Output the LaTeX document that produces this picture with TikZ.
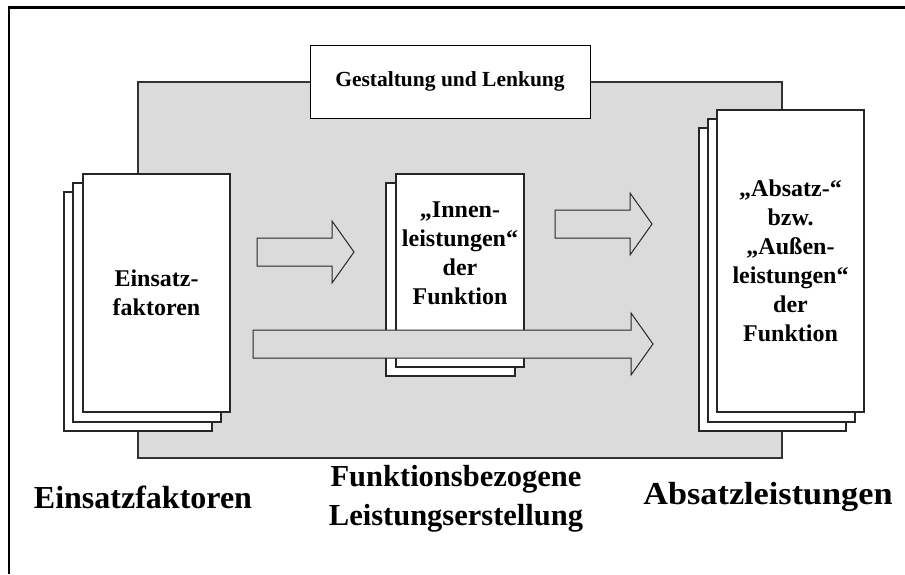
\documentclass[tikz,border=0pt]{standalone}
\usepackage{fontspec}
\setmainfont{Liberation Serif}
\begin{document}
\begin{tikzpicture}[x=1pt,y=-1pt,
  panel/.style={draw=black!80,fill=black!14,line width=1.1pt,inner sep=0pt,outer sep=0pt},
  sheet/.style={draw=black!85,fill=white,line width=1.1pt,inner sep=0pt,outer sep=0pt,
    align=center,font=\bfseries\fontsize{24}{29}\selectfont},
  headbox/.style={draw=black,fill=white,line width=0.9pt,inner sep=0pt,outer sep=0pt,
    font=\bfseries\fontsize{21.5}{26}\selectfont},
  biglabel/.style={align=center,inner sep=0pt,font=\bfseries\fontsize{32}{39}\selectfont},
  sheettext/.style={align=center,inner sep=0pt,font=\bfseries\fontsize{24}{29}\selectfont},
  flow/.style={draw=black!85,fill=black!14,line width=1pt,line join=miter}]

\newcommand\blockarrow[3]{%
  \draw[flow] (#1,{#3-14}) -- ({#2-22},{#3-14}) -- ({#2-22},{#3-31}) -- (#2,#3)
    -- ({#2-22},{#3+31}) -- ({#2-22},{#3+14}) -- (#1,{#3+14}) -- cycle;}

\useasboundingbox (0,0) rectangle (905,574);

% outer frame (top and left edges)
\draw[line width=2.2pt] (9,574) -- (9,7.5) -- (905,7.5);

% grey area of the function
\node[panel,minimum width=644pt,minimum height=376pt] (area) at (460,270) {};

% management box on top
\node[headbox,minimum width=280pt,minimum height=73pt] (lenkung) at (450,81.5) {Gestaltung und Lenkung};

% input stack
\node[sheet,minimum width=148pt,minimum height=239pt] (ein3) at (138,311.5) {};
\node[sheet,minimum width=148pt,minimum height=239pt] (ein2) at (147,302.5) {};
\node[sheet,minimum width=147pt,minimum height=238pt] (ein1) at (156.5,293) {Einsatz-\\faktoren};

% internal output stack
\node[sheet,minimum width=129pt,minimum height=193pt] (inn2) at (450.5,279.5) {};
\node[sheet,minimum width=128pt,minimum height=193pt] (inn1) at (460,270.5) {};
\node[sheettext] (inntext) at (460,253) {„Innen-\\leistungen“\\der\\Funktion};

% external output stack
\node[sheet,minimum width=147pt,minimum height=303pt] (abs3) at (772.5,279.5) {};
\node[sheet,minimum width=147pt,minimum height=303pt] (abs2) at (781.5,270.5) {};
\node[sheet,minimum width=147pt,minimum height=302pt] (abs1) at (790.5,261) {„Absatz-“\\bzw.\\„Außen-\\leistungen“\\der\\Funktion};

% flow arrows
\blockarrow{257}{354}{252}
\blockarrow{555}{652}{224}
\blockarrow{253}{653}{344}

% captions
\node[biglabel] (capein) at (143,497) {Einsatzfaktoren};
\node[biglabel,font=\bfseries\fontsize{30.5}{39}\selectfont] (capfkt) at (456,499) {Funktionsbezogene\\Leistungserstellung};
\node[biglabel] (capabs) at (768,497) {\scalebox{1.07}[1]{Absatzleistungen}};
\end{tikzpicture}
\end{document}
